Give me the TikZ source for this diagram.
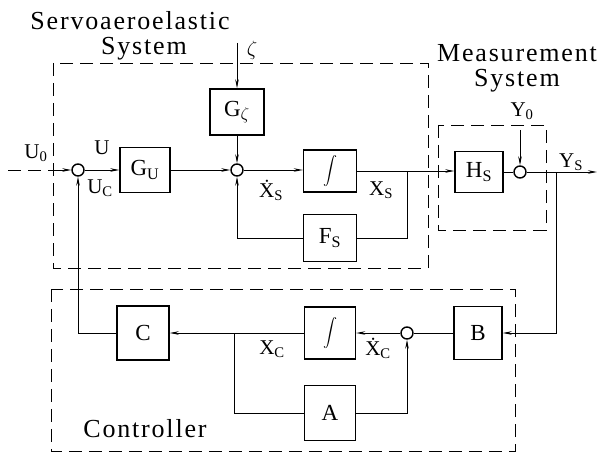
\documentclass[tikz,border=0pt]{standalone}
\usepackage{fontspec}
\setmainfont{Liberation Serif}
\usetikzlibrary{arrows.meta}
\newcommand\dX{Ẋ}
\newcommand\intg{\scalebox{1.4}{$\displaystyle\int$}}
\begin{document}
\begin{tikzpicture}[x=1pt,y=-1pt,
  blk/.style={draw,line width=1.4pt,inner sep=0pt,font=\fontsize{23}{25}\selectfont},
  sj/.style={draw,circle,line width=1.4pt,minimum size=12pt,inner sep=0pt},
  ln/.style={line width=0.8pt},
  ar/.style={ln,-{Stealth[length=9pt,width=3.5pt]}},
  dsh/.style={line width=0.8pt,dash pattern=on 13pt off 7pt},
  lbl/.style={font=\fontsize{21}{23}\selectfont,inner sep=0pt},
  ttl/.style={font=\fontsize{26}{28}\selectfont\addfontfeature{LetterSpace=7},inner sep=0pt,anchor=base}]
\useasboundingbox (0,0) rectangle (604,457);
% dashed boxes
\draw[dsh] (53,63) rectangle (428,268);
\draw[dsh] (438,125) rectangle (546,230);
\draw[dsh] (51,289) rectangle (515,451);
% servo nodes
\node[sj] (sL) at (78,170) {};
\node[blk,minimum width=50pt,minimum height=45pt] (GU) at (145,170) {G\textsubscript{U}};
\node[sj] (sM) at (237,170) {};
\node[blk,minimum width=54pt,minimum height=46pt] (Gz) at (237,112) {G\textsubscript{$\zeta$}};
\node[blk,minimum width=53pt,minimum height=42pt] (IS) at (330,171) {\intg};
\node[blk,minimum width=53pt,minimum height=47pt] (FS) at (330,238) {F\textsubscript{S}};
\node[blk,minimum width=48pt,minimum height=41pt] (HS) at (479,172) {H\textsubscript{S}};
\node[sj] (sR) at (520,172) {};
% controller nodes
\node[blk,minimum width=52pt,minimum height=54pt] (C) at (143,333) {C};
\node[blk,minimum width=51pt,minimum height=52pt] (IC) at (330,333) {\intg};
\node[sj] (sC) at (407,333) {};
\node[blk,minimum width=51pt,minimum height=55pt] (A) at (330,413) {A};
\node[blk,minimum width=48pt,minimum height=53pt] (B) at (478,333) {B};
% coordinates
\coordinate (uin) at (8,170);
\coordinate (ubx) at (50,170);
\coordinate (zt) at (237,43);
\coordinate (xs) at (407,171);
\coordinate (y0) at (520,130);
\coordinate (ye) at (597,172);
\coordinate (yb) at (556,172);
\coordinate (xc) at (234,333);
% connectors
\draw[dsh] (uin) -- (ubx);
\draw[ar] (ubx) -- (sL.west);
\draw[ar] (sL.east) -- (GU.west |- sL.east);
\draw[ar] (GU.east |- sM.west) -- (sM.west);
\draw[ar] (zt) -- (Gz.north);
\draw[ar] (Gz.south) -- (sM.north);
\draw[ar] (sM.east) -- (IS.west |- sM.east);
\draw[ar] (IS.east) -- (HS.west |- IS.east);
\draw[ln] (xs) |- (FS.east);
\draw[ar] (FS.west) -| (sM.south);
\draw[ln] (HS.east) -- (sR.west);
\draw[ar] (y0) -- (sR.north);
\draw[ar] (sR.east) -- (ye);
\draw[ar] (yb) |- (B.east);
\draw[ln] (B.west) -- (sC.east);
\draw[ar] (sC.west) -- (IC.east);
\draw[ar] (IC.west) -- (C.east);
\draw[ln] (xc) |- (A.west);
\draw[ar] (A.east) -| (sC.south);
\draw[ar] (C.west) -| (sL.south);
% titles
\node[ttl] (t1) at (130,30) {Servoaeroelastic};
\node[ttl] (t2) at (144,55) {System};
\node[ttl] (t3) at (517,62) {Measurement};
\node[ttl] (t4) at (517,87) {System};
\node[ttl] (t5) at (145,437) {Controller};
% labels
\node[lbl] (lz) at (252,50) {$\zeta$};
\node[lbl] (lu0) at (36,153) {U\textsubscript{0}};
\node[lbl] (lu) at (102,148) {U};
\node[lbl] (luc) at (100,188) {U\textsubscript{C}};
\node[lbl] (lxsd) at (271,190) {\dX\textsubscript{S}};
\node[lbl] (lxs) at (381,190) {X\textsubscript{S}};
\node[lbl] (ly0) at (522,111) {Y\textsubscript{0}};
\node[lbl] (lys) at (571,162) {Y\textsubscript{S}};
\node[lbl] (lxc) at (272,349) {X\textsubscript{C}};
\node[lbl] (lxcd) at (378,348) {\dX\textsubscript{C}};
\end{tikzpicture}
\end{document}
